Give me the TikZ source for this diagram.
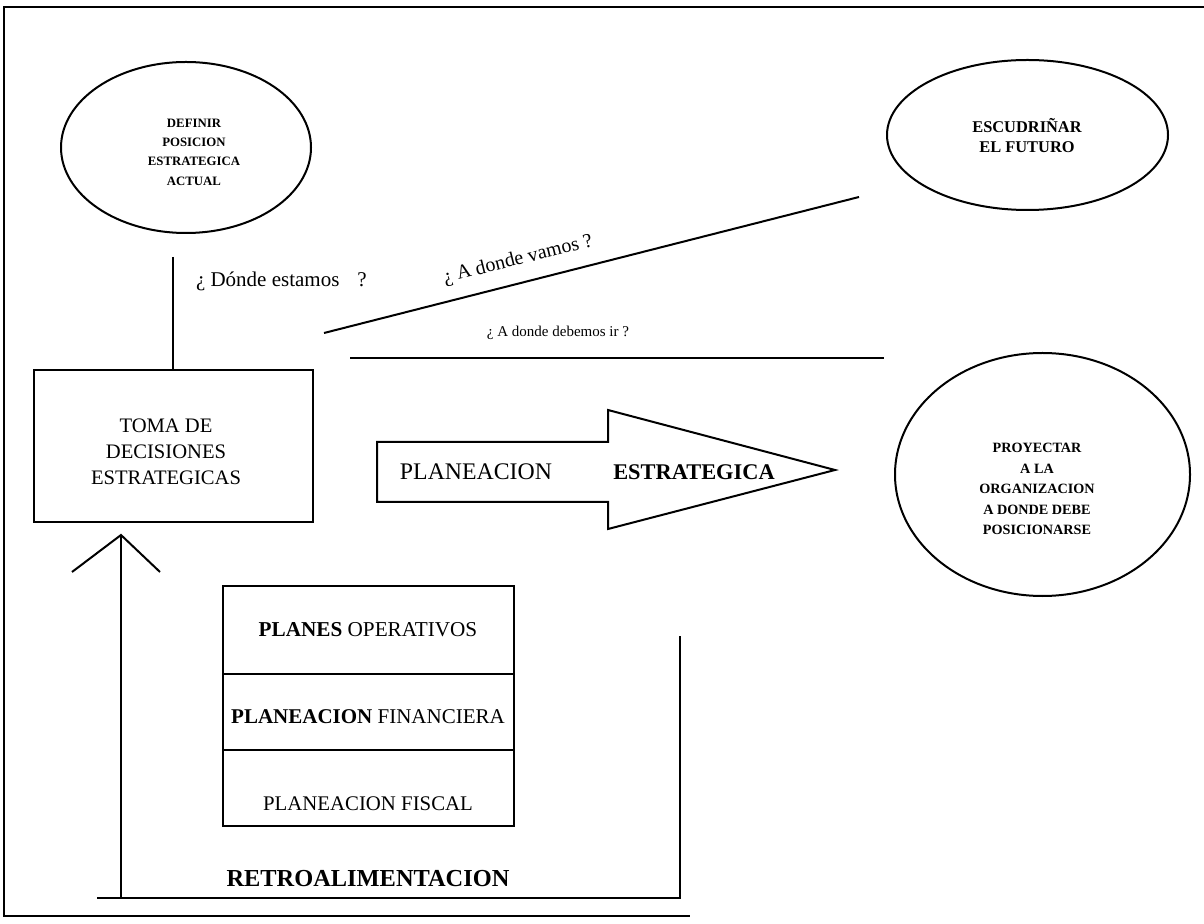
\documentclass[tikz,border=0pt]{standalone}
\usepackage{fontspec}
\setmainfont{Liberation Serif}
\usetikzlibrary{shapes.geometric}
% shift a row label down without changing its box
\newcommand{\lowered}[2]{\raisebox{-#1}[\height][\depth]{#2}}
\begin{document}
\begin{tikzpicture}[x=0.5pt,y=-0.5pt,line width=1pt,line join=miter,
  oval/.style={draw,ellipse,inner sep=0pt},
  ovaltext/.style={align=center,inner sep=0pt,font=\bfseries\fontsize{6.4}{9.7}\selectfont},
  box/.style={draw,rectangle,inner sep=0pt},
  rowbox/.style={draw,rectangle,inner sep=0pt,outer sep=0pt,minimum width=145.5pt},
  question/.style={inner sep=0pt,font=\fontsize{10}{12}\selectfont}]
\useasboundingbox (0,0) rectangle (1204,924);

% outer frame (open on the right)
\draw (1204,7) -- (4,7) -- (4,916) -- (690,916);

% ellipses
\node[oval,minimum width=125pt,minimum height=85.5pt] (definir) at (186,147.5) {};
\node[ovaltext] (definirT) at (194,152) {DEFINIR\\POSICION\\ESTRATEGICA\\ACTUAL};

\node[oval,minimum width=140.5pt,minimum height=75pt] (escudrinar) at (1027.5,135) {};
\node[ovaltext,font=\bfseries\fontsize{8.2}{9.6}\selectfont] (escudrinarT) at (1027,135.5) {ESCUDRIÑAR\\EL FUTURO};

\node[oval,minimum width=147.5pt,minimum height=121.5pt] (proyectar) at (1042.5,474.5) {};
\node[ovaltext,font=\bfseries\fontsize{7.1}{10.25}\selectfont] (proyectarT) at (1037,489) {PROYECTAR\\A LA\\ORGANIZACION\\A DONDE DEBE\\POSICIONARSE};

% decision box
\node[box,minimum width=139.5pt,minimum height=76pt] (toma) at (173.5,446) {};
\node[align=center,inner sep=0pt,font=\fontsize{10.3}{13}\selectfont] (tomaT) at (166,452) {TOMA DE\\DECISIONES\\ESTRATEGICAS};

% link from the current position to the decisions
\coordinate (donde) at (173,257);
\draw (donde) -- (toma.north -| donde);
\node[question,anchor=west,font=\fontsize{10.5}{12}\selectfont] (qDonde) at (195,281) {¿ Dónde estamos\hspace{9pt}?};

% where we go / where we should go
\coordinate (vamosA) at (324,333);
\coordinate (vamosB) at (859,197);
\draw (vamosA) -- (vamosB);
\node[question,rotate=14] (qVamos) at (518,260) {¿ A donde vamos ?};

\coordinate (debemosA) at (350,358);
\coordinate (debemosB) at (884,358);
\draw (debemosA) -- (debemosB);
\node[question,font=\fontsize{7.5}{9}\selectfont] (qDebemos) at (558,333) {¿ A donde debemos ir ?};

% block arrow
\draw (377,442) coordinate (arA) -- (608,442) -- (608,410) -- (835,470) coordinate (arTip)
  -- (608,529) -- (608,502) -- (377,502) -- cycle;
\node[inner sep=0pt,font=\fontsize{11.9}{13}\selectfont] (arText1) at (476,472) {PLANEACION};
\node[inner sep=0pt,font=\bfseries\fontsize{11.2}{13}\selectfont] (arText2) at (694,472) {ESTRATEGICA};

% stack of plans
\node[rowbox,minimum height=44pt,font=\fontsize{10.6}{13}\selectfont] (operativos) at (368,630) {\textbf{PLANES} OPERATIVOS};
\node[rowbox,minimum height=38pt,anchor=north,font=\fontsize{10.5}{12}\selectfont] (financiera) at (operativos.south) {\lowered{2.5pt}{\textbf{PLANEACION} FINANCIERA}};
\node[rowbox,minimum height=38pt,anchor=north,font=\fontsize{10.4}{12}\selectfont] (fiscal) at (financiera.south) {\lowered{8pt}{PLANEACION FISCAL}};

% feedback loop
\coordinate (fbTop) at (680,636);
\coordinate (fbCorner) at (680,898);
\coordinate (fbLeft) at (97,898);
\coordinate (fbFoot) at (121,898);
\coordinate (fbTip) at (121,535);
\draw (fbTop) -- (fbCorner) -- (fbLeft);
\draw (fbFoot) -- (fbTip);
\draw (72,572) coordinate (barbL) -- (fbTip) -- (160,572) coordinate (barbR);
\node[inner sep=0pt,font=\bfseries\fontsize{12.2}{14}\selectfont] (retro) at (368,879) {RETROALIMENTACION};
\end{tikzpicture}
\end{document}
